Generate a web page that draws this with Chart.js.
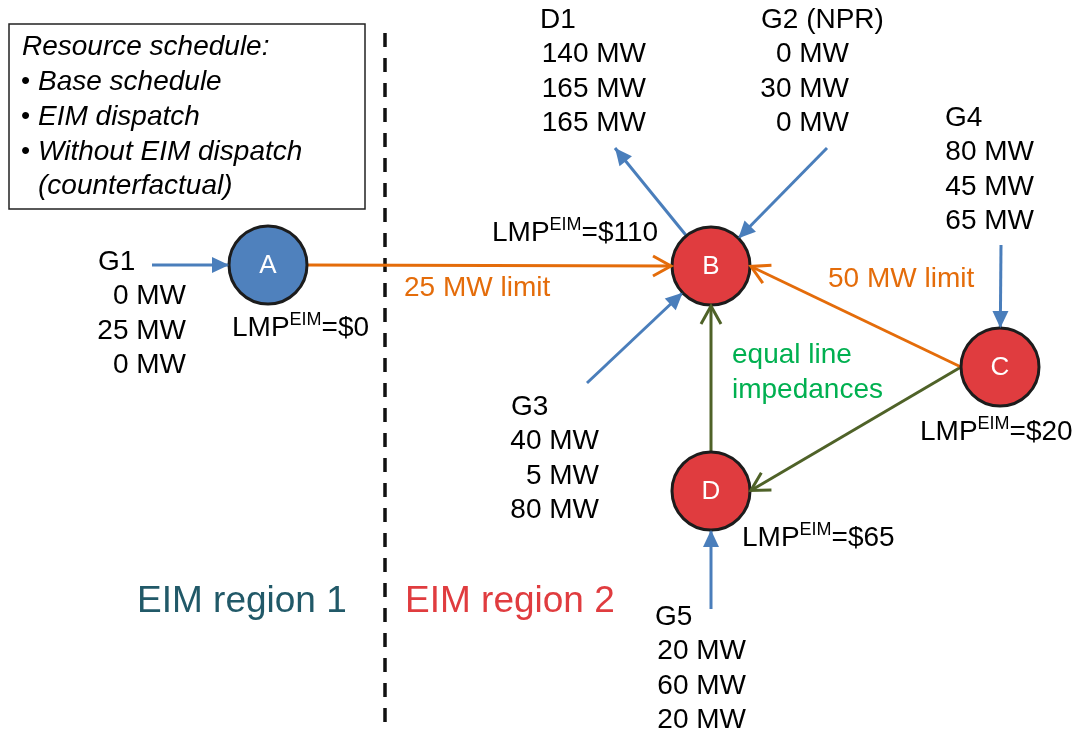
<!DOCTYPE html>
<html>
<head>
<meta charset="utf-8">
<script src="https://cdn.jsdelivr.net/npm/chart.js@4/dist/chart.umd.min.js"></script>
<style>
    body { margin: 0; background: #fff; }
    #wrap { width: 1077px; height: 733px; position: relative; }
</style>
</head>
<body>
<div id="wrap"><canvas id="diagram"></canvas></div>
<script>
// buses
var nodeNames = ['A', 'B', 'C', 'D'];
var nodeX = [268, 711, 1000, 711];
var nodeY = [265, 266, 367, 491];
var nodeLmp = [0, 110, 20, 65];

// resources: base schedule, EIM dispatch, without EIM dispatch
var resources = ['G1', 'D1', 'G2 (NPR)', 'G3', 'G4', 'G5'];
var resourceNode = ['A', 'B', 'B', 'B', 'C', 'D'];
var resourceFlow = ['in', 'out', 'in', 'in', 'in', 'in'];
var baseSchedule = [0, 140, 0, 40, 80, 20];
var eimDispatch = [25, 165, 30, 5, 45, 60];
var withoutEim = [0, 165, 0, 80, 65, 20];

// transmission lines
var lineFrom = ['A', 'C', 'C', 'D'];
var lineTo = ['B', 'B', 'D', 'B'];
var lineLimit = [25, 50, null, null];

var legendLines = ['Resource schedule:', 'Base schedule', 'EIM dispatch', 'Without EIM dispatch', '(counterfactual)'];
var regionNames = ['EIM region 1', 'EIM region 2'];

// ---- layout (positions only) ----
var NODE_R = 39;
var tailX = [152, 615, 827, 587, 1001, 711];
var tailY = [265, 148, 148, 383, 245, 609];
var lineFromSide = ['right', 'left', 'left', 'top'];
var lineToSide = ['left', 'right', 'right', 'bottom'];
var blockLeft = [98, 540, 761, 511, 945, 655];
var blockRight = [186, 646, 849, 599, 1034, 746];
var blockTop = [262, 20, 20, 407, 118, 617];
var lmpX = [232, 492, 920, 742];
var lmpY = [328, 233, 432, 538];
var limitLabelX = [404, 828];
var limitLabelY = [288, 279];

var BLUE = '#4a7ebb', ORANGE = '#e46c0a', OLIVE = '#4f6228', RED = '#e03c3f';
var FONT = '"Liberation Sans", Arial, sans-serif';

function idx(name) { return nodeNames.indexOf(name); }
function side(name, s) {
    var i = idx(name);
    var dx = { left: -NODE_R, right: NODE_R, top: 0, bottom: 0 }[s];
    var dy = { left: 0, right: 0, top: -NODE_R, bottom: NODE_R }[s];
    return { x: nodeX[i] + dx, y: nodeY[i] + dy };
}

var datasets = [];

datasets.push({
    label: 'buses',
    order: 0,
    data: nodeNames.map(function (n, i) { return { x: nodeX[i], y: nodeY[i] }; }),
    pointRadius: NODE_R,
    pointBackgroundColor: nodeNames.map(function (n) { return n == 'A' ? '#4f81bd' : RED; }),
    pointBorderColor: '#1c1c1c',
    pointBorderWidth: 3,
    clip: false
});

lineFrom.forEach(function (f, i) {
    datasets.push({
        label: f + '-' + lineTo[i],
        order: 1,
        showLine: true,
        data: [side(f, lineFromSide[i]), side(lineTo[i], lineToSide[i])],
        borderColor: lineLimit[i] ? ORANGE : OLIVE,
        borderWidth: 3,
        pointRadius: 0,
        arrow: 'open',
        clip: false
    });
});

resources.forEach(function (r, i) {
    var n = idx(resourceNode[i]);
    var dx = tailX[i] - nodeX[n], dy = tailY[i] - nodeY[n];
    var len = Math.sqrt(dx * dx + dy * dy);
    var edge = { x: nodeX[n] + NODE_R * dx / len, y: nodeY[n] + NODE_R * dy / len };
    var tail = { x: tailX[i], y: tailY[i] };
    datasets.push({
        label: r,
        order: 1,
        showLine: true,
        data: resourceFlow[i] == 'in' ? [tail, edge] : [edge, tail],
        borderColor: BLUE,
        borderWidth: 3,
        pointRadius: 0,
        arrow: 'filled',
        clip: false
    });
});

datasets.push({
    label: 'region border',
    order: 1,
    showLine: true,
    data: [{ x: 385, y: 33 }, { x: 385, y: 733 }],
    borderColor: '#111',
    borderWidth: 3.5,
    borderDash: [14, 11],
    pointRadius: 0,
    clip: false
});

function lmpText(ctx, x, y, value) {
    ctx.textAlign = 'left';
    ctx.textBaseline = 'middle';
    ctx.fillStyle = '#000';
    ctx.font = '28px ' + FONT;
    ctx.fillText('LMP', x, y);
    x += ctx.measureText('LMP').width;
    ctx.font = '18px ' + FONT;
    ctx.fillText('EIM', x, y - 8);
    x += ctx.measureText('EIM').width;
    ctx.font = '28px ' + FONT;
    ctx.fillText('=$' + value, x, y);
}

var diagramPlugin = {
    id: 'diagram',
    afterDatasetsDraw: function (chart) {
        var ctx = chart.ctx;
        var sx = chart.scales.x, sy = chart.scales.y;
        function px(v) { return sx.getPixelForValue(v); }
        function py(v) { return sy.getPixelForValue(v); }
        ctx.save();

        // arrow heads
        chart.data.datasets.forEach(function (ds, di) {
            if (!ds.arrow) return;
            var pts = chart.getDatasetMeta(di).data;
            var a = pts[pts.length - 2], b = pts[pts.length - 1];
            var ang = Math.atan2(b.y - a.y, b.x - a.x);
            ctx.save();
            ctx.translate(b.x, b.y);
            ctx.rotate(ang);
            if (ds.arrow == 'filled') {
                ctx.fillStyle = ds.borderColor;
                ctx.beginPath();
                ctx.moveTo(0, 0);
                ctx.lineTo(-17, -8);
                ctx.lineTo(-17, 8);
                ctx.closePath();
                ctx.fill();
            } else {
                ctx.strokeStyle = ds.borderColor;
                ctx.lineWidth = 3;
                ctx.beginPath();
                ctx.moveTo(-19, -10);
                ctx.lineTo(-1, 0);
                ctx.lineTo(-19, 10);
                ctx.stroke();
            }
            ctx.restore();
        });

        // bus letters
        ctx.fillStyle = '#fff';
        ctx.font = '26px ' + FONT;
        ctx.textAlign = 'center';
        ctx.textBaseline = 'middle';
        nodeNames.forEach(function (n, i) { ctx.fillText(n, px(nodeX[i]), py(nodeY[i]) + 1); });

        // LMP labels
        nodeLmp.forEach(function (v, i) { lmpText(ctx, px(lmpX[i]), py(lmpY[i]), v); });

        // resource schedules
        ctx.fillStyle = '#000';
        ctx.font = '28px ' + FONT;
        ctx.textBaseline = 'middle';
        resources.forEach(function (r, i) {
            ctx.textAlign = 'left';
            ctx.fillText(r, px(blockLeft[i]), py(blockTop[i]));
            ctx.textAlign = 'right';
            [baseSchedule[i], eimDispatch[i], withoutEim[i]].forEach(function (v, k) {
                ctx.fillText(v + ' MW', px(blockRight[i]), py(blockTop[i] + 34.5 * (k + 1)));
            });
        });

        // line limits
        ctx.textAlign = 'left';
        ctx.fillStyle = ORANGE;
        var li = 0;
        lineLimit.forEach(function (v) {
            if (!v) return;
            ctx.fillText(v + ' MW limit', px(limitLabelX[li]), py(limitLabelY[li]));
            li++;
        });
        ctx.fillStyle = '#00b050';
        ctx.fillText('equal line', px(732), py(355));
        ctx.fillText('impedances', px(732), py(390));

        // regions
        ctx.font = '37px ' + FONT;
        ctx.fillStyle = '#215968';
        ctx.fillText(regionNames[0], px(137), py(602));
        ctx.fillStyle = RED;
        ctx.fillText(regionNames[1], px(405), py(602));

        // legend box
        ctx.strokeStyle = '#222';
        ctx.lineWidth = 1.5;
        ctx.strokeRect(px(9), py(24), px(365) - px(9), py(209) - py(24));
        ctx.fillStyle = '#000';
        ctx.font = 'italic 28px ' + FONT;
        var ly = [47, 82, 117, 152, 186];
        legendLines.forEach(function (t, k) {
            if (k == 0) {
                ctx.fillText(t, px(22), py(ly[k]));
            } else if (k == 4) {
                ctx.fillText(t, px(38), py(ly[k]));
            } else {
                ctx.font = '26px ' + FONT;
                ctx.fillText('\u2022', px(21), py(ly[k]));
                ctx.font = 'italic 28px ' + FONT;
                ctx.fillText(t, px(38), py(ly[k]));
            }
        });

        ctx.restore();
    }
};

new Chart(document.getElementById('diagram'), {
    type: 'scatter',
    data: { datasets: datasets },
    options: {
        responsive: true,
        maintainAspectRatio: false,
        animation: false,
        events: [],
        layout: { padding: 0, autoPadding: false },
        plugins: { legend: { display: false }, tooltip: { enabled: false } },
        scales: {
            x: { type: 'linear', min: 0, max: 1077, display: false },
            y: { type: 'linear', min: 0, max: 733, reverse: true, display: false }
        }
    },
    plugins: [diagramPlugin]
});
</script>
</body>
</html>
